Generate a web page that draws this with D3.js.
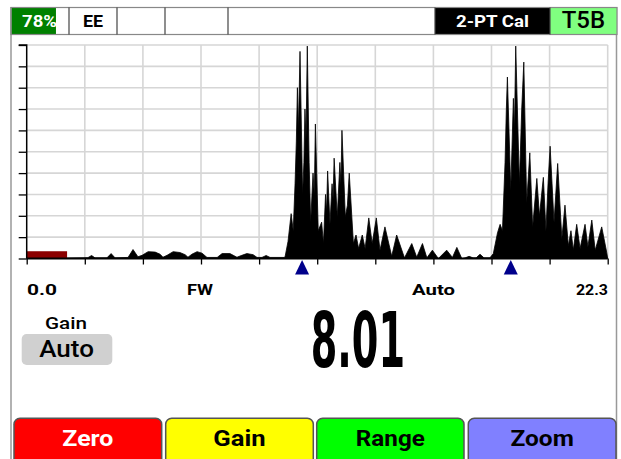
<!DOCTYPE html>
<html>
<head>
<meta charset="utf-8">
<script src="https://cdn.jsdelivr.net/npm/d3@7/dist/d3.min.js"></script>
<style>
html,body{margin:0;padding:0;background:#fff;}
svg{display:block;font-family:Roboto,"Open Sans",sans-serif;}
</style>
</head>
<body>
<svg id="c" width="621" height="459"></svg>
<script>
// ---------- data ----------
const depthRange = [0, 22.3];           // mm
const ampRange = [0, 100];              // %
const xLabels = ["0.0", "FW", "Auto", "22.3"];
const batteryPct = 78;
const statusCells = ["78%", "EE", "", "", "", "2-PT Cal", "T5B"];
const gates = [10.57, 18.58];           // gate marker positions (mm)
const thickness = "8.01";
const gainLabel = "Gain";
const gainValue = "Auto";
const buttonLabels = ["Zero", "Gain", "Range", "Zoom"];
const redBlock = [0, 1.55];             // initial pulse block (mm)
const redBlockLevel = 3.4;              // %

// waveform: depth (mm) and amplitude (%)
const waveDepth = [0.00,2.20,2.35,2.49,2.62,3.08,3.24,3.39,3.89,4.08,4.27,4.43,4.66,4.93,5.12,5.23,5.39,5.62,5.88,6.08,6.19,6.34,6.54,6.73,6.92,7.31,7.50,7.80,8.07,8.26,8.45,8.69,8.84,9.03,9.19,9.34,9.88,
 9.92,10.03,10.15,10.23,10.30,10.35,10.39,10.43,10.49,10.59,10.64,10.68,10.72,10.77,10.84,10.90,10.99,11.04,11.08,11.19,11.32,11.39,11.47,11.51,11.55,11.64,11.72,11.76,11.80,11.92,12.02,12.06,12.10,12.23,12.31,12.38,12.54,12.64,12.74,12.88,12.99,13.13,13.26,13.42,13.56,13.75,14.01,14.20,14.50,14.78,14.97,15.19,15.36,15.57,15.80,16.12,16.34,16.51,16.70,16.83,16.98,17.13,17.25,17.40,17.55,17.78,
 17.91,18.07,18.17,18.26,18.36,18.41,18.45,18.58,18.68,18.72,18.77,18.91,19.00,19.08,19.19,19.31,19.42,19.58,19.68,19.83,19.93,20.01,20.09,20.24,20.38,20.54,20.66,20.79,20.89,20.98,21.11,21.24,21.43,21.54,21.69,21.82,22.07,22.26,22.30];
const waveAmp = [0,0.3,0.4,1.4,0.3,0.3,2.3,0.3,0.5,4.2,0.8,1.5,3.2,3.0,2.0,0.6,1.5,3.2,2.8,1.8,0.6,2.0,3.2,2.5,0.5,0.5,2.3,2.3,0.6,1.5,2.3,1.8,0.5,0.5,1.4,0.5,0.5,
 1,8,21,13,35,55,80,60,97,30,45,70,55,99.5,45,17,40,30,63,13,17,7,30,22,41,16,35,28,47,19.5,45,35,60,19.5,25,40,7,11,4.7,11,4.7,19,7,19,3.9,14.8,1.1,11,0.3,7,0.6,7,0.3,3.9,0,3.9,0.5,5.2,0,0.3,1,0.3,0.3,2,0.3,0.3,
 2.3,12,16,13,45,70,85,32,75,60,99.5,35,70,92,26,49.5,14.8,37.5,20,38,13,35,52.6,17,44.5,9.4,25,6,13,4,16,4.7,16,5.5,18,3.9,14.8,3,0];

// ---------- layout ----------
const svg = d3.select("#c");
const L = 26.7, R = 607.7, T = 45, B = 258.5;
const x = d3.scaleLinear().domain(depthRange).range([L, R]);
const y = d3.scaleLinear().domain(ampRange).range([B, T]);

function txt(g, s, px, py, opt){
  const t = g.append("text").attr("x",px).attr("y",py).attr("text-anchor",opt.a||"middle")
    .attr("font-size",opt.s).attr("font-weight",opt.w||700).attr("fill",opt.c||"#000").text(s);
  if(opt.len){ t.attr("textLength",opt.len).attr("lengthAdjust","spacingAndGlyphs"); }
  return t;
}

// outer frame
svg.append("line").attr("x1",11).attr("x2",11).attr("y1",7).attr("y2",459).attr("stroke","#999").attr("stroke-width",1.5);
svg.append("line").attr("x1",616.5).attr("x2",616.5).attr("y1",7).attr("y2",459).attr("stroke","#999").attr("stroke-width",1.5);

// status bar
const cellEdges = [11, 69, 117, 165, 228, 435, 550, 617];
const barTop = 7.5, barBot = 34.5;
const cells = svg.append("g");
cells.append("rect").attr("x",cellEdges[0]+0.5).attr("y",barTop+0.5)
  .attr("width",(cellEdges[1]-cellEdges[0]-1)*batteryPct/100).attr("height",barBot-barTop-1).attr("fill","#008000");
cells.append("rect").attr("x",cellEdges[5]).attr("y",barTop).attr("width",cellEdges[6]-cellEdges[5]).attr("height",barBot-barTop).attr("fill","#000");
cells.append("rect").attr("x",cellEdges[6]).attr("y",barTop).attr("width",cellEdges[7]-cellEdges[6]).attr("height",barBot-barTop).attr("fill","#80ff80");
cells.append("rect").attr("x",cellEdges[0]).attr("y",barTop).attr("width",cellEdges[7]-cellEdges[0]).attr("height",barBot-barTop)
  .attr("fill","none").attr("stroke","#888").attr("stroke-width",1.2);
cellEdges.slice(1,-1).forEach(e=>{
  cells.append("line").attr("x1",e).attr("x2",e).attr("y1",barTop).attr("y2",barBot).attr("stroke","#444").attr("stroke-width",1.2);
});
txt(cells, statusCells[0], 39.5, 26.7, {s:16, c:"#fff", len:35});
txt(cells, statusCells[1], 93, 26.7, {s:16, len:20});
txt(cells, statusCells[5], 492.5, 26.7, {s:16, c:"#fff", len:73});
txt(cells, statusCells[6], 583.4, 27.5, {s:23, w:500, len:43.3});

// grid
const gridX = d3.range(11).map(i=>depthRange[0]+i*(depthRange[1]-depthRange[0])/10);
const gridY = d3.range(0,101,10);
const grid = svg.append("g");
grid.selectAll(".gx").data(gridX.slice(1)).join("line")
  .attr("x1",d=>x(d)).attr("x2",d=>x(d)).attr("y1",T).attr("y2",B).attr("stroke","#d6d6d6").attr("stroke-width",1.6);
grid.selectAll(".gy").data(gridY.slice(1)).join("line")
  .attr("x1",L).attr("x2",R).attr("y1",d=>y(d)).attr("y2",d=>y(d)).attr("stroke","#d6d6d6").attr("stroke-width",1.6);

// waveform
const wave = waveDepth.map((d,i)=>({d, a:waveAmp[i]}));
const area = d3.area().x(p=>x(p.d)).y0(B).y1(p=>y(p.a)).curve(d3.curveLinear);
svg.append("path").datum(wave).attr("d",area).attr("fill","#000").attr("stroke","#000").attr("stroke-width",0.8).attr("stroke-linejoin","miter");

// initial pulse block
svg.append("rect").attr("x",x(redBlock[0])).attr("y",y(redBlockLevel)).attr("width",x(redBlock[1])-x(redBlock[0]))
  .attr("height",B-y(redBlockLevel)).attr("fill","#8b0000");

// axes
const yAxis = d3.axisLeft(y).tickValues(gridY).tickSize(8).tickFormat("");
const gy = svg.append("g").attr("transform",`translate(${L},0)`).call(yAxis);
gy.select(".domain").attr("stroke","#000").attr("stroke-width",1.5).attr("d",`M-8,${T}H0V${B}`);
gy.selectAll(".tick line").attr("stroke","#000").attr("stroke-width",1.3);
const xAxis = d3.axisBottom(x).tickValues(gridX).tickSize(6).tickFormat("");
const gx = svg.append("g").attr("transform",`translate(0,${B})`).call(xAxis);
gx.select(".domain").attr("stroke","#000").attr("stroke-width",2).attr("d",`M${L},0H${R}`);
gx.selectAll(".tick line").attr("stroke","#000").attr("stroke-width",1.3);

// gate markers
svg.selectAll(".gate").data(gates).join("path")
  .attr("d",g=>`M${x(g)},${B+1.5}L${x(g)+7},${B+16}L${x(g)-7},${B+16}Z`).attr("fill","#00008b");

// x labels
const lg = svg.append("g");
txt(lg, xLabels[0], 27, 294.5, {s:15.5, a:"start", len:30});
txt(lg, xLabels[1], 200, 294.5, {s:15.5, len:26});
txt(lg, xLabels[2], 433.5, 294.5, {s:15.5, len:43});
txt(lg, xLabels[3], 608, 294.5, {s:15.5, a:"end", len:32});

// gain block
txt(svg, gainLabel, 66, 329.3, {s:16.5, w:500, len:42});
svg.append("rect").attr("x",21.7).attr("y",334).attr("width",90.6).attr("height",31).attr("rx",5).attr("fill","#d0d0d0");
txt(svg, gainValue, 66.6, 356.7, {s:23, w:500, len:54.7});

// big reading (horizontally condensed)
const bigG = svg.append("g");
const bigT = bigG.append("text").attr("x",0).attr("y",0).attr("font-family","'DejaVu Sans Condensed','DejaVu Sans'")
  .attr("font-size",76).attr("font-weight",700).text(thickness);
const natW = bigT.node().getComputedTextLength();
bigG.attr("transform",`translate(310.7,367.3) scale(${94.3/natW},1)`);

// buttons
const btnEdges = [[14,161.7],[165.7,313.3],[316.7,464],[468.3,616]];
const btnFill = ["#ff0000","#ffff00","#00ff00","#8080ff"];
const btnText = ["#fff","#000","#000","#000"];
const btnTextLen = [51, 52.3, 69, 63.3];
const bg = svg.selectAll(".btn").data(buttonLabels).join("g");
bg.append("rect").attr("x",(d,i)=>btnEdges[i][0]).attr("y",418.3).attr("width",(d,i)=>btnEdges[i][1]-btnEdges[i][0])
  .attr("height",50).attr("rx",6).attr("fill",(d,i)=>btnFill[i]).attr("stroke","#555").attr("stroke-width",1.5);
bg.append("text").attr("x",(d,i)=>(btnEdges[i][0]+btnEdges[i][1])/2).attr("y",445.7).attr("text-anchor","middle")
  .attr("font-size",22).attr("font-weight",700).attr("fill",(d,i)=>btnText[i])
  .attr("textLength",(d,i)=>btnTextLen[i]).attr("lengthAdjust","spacingAndGlyphs").text(d=>d);
</script>
</body>
</html>
